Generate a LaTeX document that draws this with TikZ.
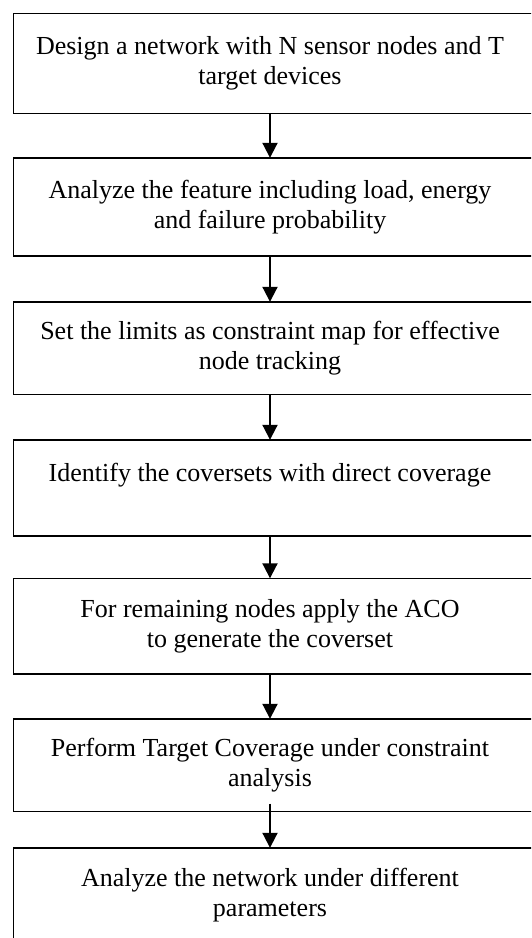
\documentclass[tikz,border=0pt]{standalone}
\usepackage{fontspec}
\setmainfont{Liberation Serif}
\usetikzlibrary{arrows.meta}
\begin{document}
\begin{tikzpicture}[x=1pt, y=-1pt,
  stepbox/.style={minimum width=513pt, inner sep=0pt, align=center,
    font=\fontsize{26}{30.5}\selectfont},
  frame/.style={line width=1.5pt},
  flow/.style={line width=2pt, -{Triangle[length=15pt,width=15pt]}}]
  \clip (0,0) rectangle (531,938);
  \fill[white] (0,0) rectangle (531,938);

  \node[stepbox, minimum height=100pt] (b1) at (270,63.5)
    {Design a network with N sensor nodes and T\\target devices};
  \node[stepbox, minimum height=98pt] (b2) at (270,207)
    {Analyze the feature including load, energy\\and failure probability};
  \node[stepbox, minimum height=92.5pt] (b3) at (270,348.25)
    {Set the limits as constraint map for effective\\node tracking};
  \node[stepbox, minimum height=96pt] (b4) at (270,488)
    {Identify the coversets with direct coverage\\ \mbox{}};
  \node[stepbox, minimum height=95.5pt] (b5) at (270,626.25)
    {For remaining nodes apply the ACO\\to generate the coverset};
  \node[stepbox, minimum height=92.5pt] (b6) at (270,765.25)
    {Perform Target Coverage under constraint\\analysis};
  \node[stepbox, minimum height=94pt] (b7) at (270,895)
    {Analyze the network under different\\parameters};

  % box frames run past the right edge of the page
  \foreach \n in {b1,b2,b3,b4,b5,b6,b7}
    \draw[frame] (\n.north west) rectangle ([xshift=14pt]\n.south east);

  \draw[flow] (b1.south) -- (b2.north);
  \draw[flow] (b2.south) -- (b3.north);
  \draw[flow] (b3.south) -- (b4.north);
  \draw[flow] (b4.south) -- (b5.north);
  \draw[flow] (b5.south) -- (b6.north);
  \draw[flow] ([yshift=8pt]b6.south) -- (b7.north);
\end{tikzpicture}
\end{document}
